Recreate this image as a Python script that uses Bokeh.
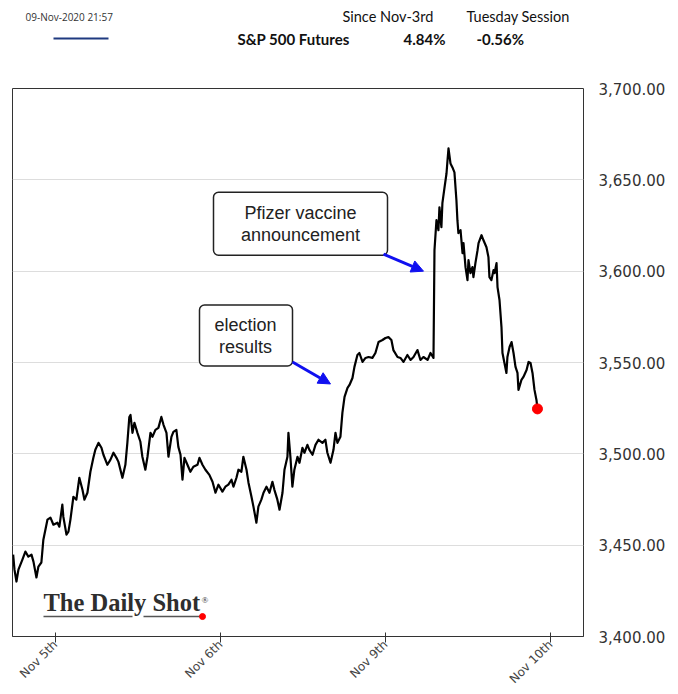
import math
from bokeh.plotting import figure
from bokeh.layouts import column
from bokeh.models import (Range1d, FixedTicker, NumeralTickFormatter, Label,
                          Arrow, NormalHead, BoxAnnotation)
from bokeh.core.properties import value
from bokeh.embed import file_html
from bokeh.resources import INLINE

# ---------------- data ----------------
# x: trading-session day (0 = Nov 5th, 1 = Nov 6th, 2 = Nov 9th, 3 = Nov 10th)
session_day = [
    -0.256, -0.248, -0.236, -0.224, -0.200, -0.182, -0.164, -0.145, -0.133, -0.115, -0.103, -0.085, -0.073, -0.048, -0.030, -0.012,
    0.012, 0.024, 0.042, 0.048, 0.067, 0.079, 0.091, 0.109, 0.127, 0.145, 0.164, 0.176, 0.194, 0.212, 0.230, 0.242, 0.261, 0.279, 0.291, 0.315, 0.333, 0.352, 0.370, 0.382, 0.406, 0.424, 0.436, 0.448,
    0.455, 0.467, 0.479, 0.497, 0.515, 0.527, 0.545, 0.558, 0.576, 0.588, 0.606, 0.624, 0.642, 0.655, 0.673, 0.685, 0.703, 0.715, 0.733, 0.745, 0.758, 0.770, 0.782, 0.800, 0.818, 0.836, 0.861, 0.873, 0.891, 0.909, 0.933, 0.952, 0.970, 0.988,
    1.012, 1.030, 1.048, 1.067, 1.079, 1.097, 1.109, 1.127, 1.139, 1.158, 1.170, 1.188, 1.200, 1.218, 1.230, 1.248, 1.261, 1.279, 1.297, 1.315, 1.327, 1.345, 1.358, 1.376, 1.388, 1.406, 1.412, 1.424, 1.436, 1.448, 1.467, 1.479, 1.497, 1.509, 1.527, 1.539, 1.558, 1.576, 1.594, 1.618, 1.636, 1.648, 1.667, 1.685, 1.697, 1.709, 1.727, 1.739, 1.752, 1.770, 1.782, 1.800, 1.812, 1.830, 1.842, 1.861, 1.879, 1.897, 1.921, 1.939, 1.958, 1.982,
    2.000, 2.018, 2.036, 2.048, 2.073, 2.091, 2.109, 2.133, 2.152, 2.170, 2.194, 2.212, 2.230, 2.255, 2.273, 2.291, 2.297, 2.309, 2.321, 2.327, 2.339, 2.345, 2.358, 2.370, 2.376, 2.382, 2.394, 2.406, 2.418, 2.430, 2.436, 2.442, 2.455, 2.467, 2.473, 2.485, 2.497, 2.503, 2.515, 2.527, 2.533, 2.545, 2.558, 2.564, 2.582, 2.594, 2.612, 2.624, 2.630, 2.642, 2.655, 2.661, 2.673, 2.679, 2.691, 2.703, 2.709, 2.721, 2.733, 2.739, 2.752, 2.764, 2.776, 2.788, 2.800, 2.806, 2.824, 2.836, 2.855, 2.867, 2.879, 2.891, 2.903, 2.915, 2.921,
]
price = [
    3444.8, 3436.6, 3430.1, 3436.6, 3442.1, 3446.5, 3443.7, 3444.8, 3441.0, 3432.3, 3438.3, 3440.5, 3453.0, 3464.0, 3465.1, 3461.2,
    3462.3, 3460.1, 3472.2, 3465.6, 3455.8, 3457.4, 3464.0, 3476.5, 3474.9, 3486.9, 3480.3, 3474.9, 3478.7, 3490.2, 3497.8, 3502.2, 3506.0, 3503.3, 3499.5, 3494.0, 3496.7, 3500.6, 3497.8, 3495.6, 3486.9, 3494.0, 3506.0, 3520.2,
    3521.3, 3511.5, 3517.0, 3511.5, 3506.6, 3498.4, 3491.3, 3498.4, 3511.5, 3509.3, 3513.1, 3514.2, 3520.2, 3515.9, 3511.5, 3498.4, 3509.3, 3512.0, 3513.1, 3503.8, 3499.5, 3485.8, 3497.8, 3494.0, 3490.2, 3492.9, 3494.0, 3497.8, 3494.0, 3491.3, 3488.5, 3484.7, 3478.7, 3483.1,
    3479.3, 3482.0, 3483.1, 3485.8, 3482.0, 3486.9, 3491.3, 3490.2, 3498.4, 3491.3, 3484.2, 3476.5, 3471.1, 3462.3, 3471.1, 3474.9, 3478.7, 3482.0, 3478.7, 3484.7, 3480.3, 3474.9, 3469.4, 3478.7, 3491.3, 3498.4, 3511.5, 3498.4, 3482.0, 3491.3, 3498.4, 3495.1, 3503.3, 3500.6, 3504.9, 3502.2, 3499.5, 3504.9, 3507.7, 3506.0, 3507.7, 3500.6, 3495.1, 3502.2, 3511.5, 3506.0, 3509.3, 3522.4, 3531.2, 3536.1, 3537.7, 3541.5, 3547.6, 3554.1, 3555.2, 3550.3, 3552.5, 3553.0, 3552.5, 3555.2, 3561.2, 3562.3,
    3563.4, 3563.9, 3562.3, 3556.8, 3553.0, 3552.5, 3550.3, 3554.1, 3551.4, 3553.0, 3556.8, 3551.4, 3553.0, 3551.4, 3555.2, 3552.5, 3611.5, 3627.9, 3622.4, 3635.0, 3624.1, 3637.2, 3645.9, 3653.6, 3660.7, 3667.2, 3659.0, 3656.8, 3654.1, 3638.8, 3627.9, 3620.8, 3622.4, 3609.8, 3615.3, 3602.2, 3595.1, 3606.0, 3598.9, 3602.2, 3596.7, 3604.4, 3611.5, 3615.3, 3619.7, 3616.9, 3613.1, 3607.7, 3596.7, 3595.1, 3600.6, 3598.9, 3604.4, 3591.3, 3584.2, 3569.4, 3555.2, 3549.7, 3544.3, 3553.0, 3558.5, 3561.2, 3555.2, 3547.6, 3544.3, 3535.0, 3540.5, 3542.1, 3545.9, 3550.3, 3549.7, 3544.3, 3535.0, 3529.5, 3524.6,
]
assert len(session_day) == len(price)

tick_days = [0, 1, 2, 3]
tick_labels = ["Nov 5th", "Nov 6th", "Nov 9th", "Nov 10th"]
price_ticks = [3400, 3450, 3500, 3550, 3600, 3650, 3700]

timestamp_text = "09-Nov-2020 21:57"
series_name = "S&P 500 Futures"
since_header = "Since Nov-3rd"
session_header = "Tuesday Session"
since_value = "4.84%"
session_value = "-0.56%"

# ---------------- layout ----------------
W = 670
HH = 70                      # header strip height
H = 624                      # main figure height
FL, FT, FW, FH = 12, 18, 571, 549   # frame inside main figure
X_LO, X_HI = -0.26, 3.2
Y_LO, Y_HI = 3400, 3700
PAGE_FT = HH + FT            # frame top in page pixels (88)


def xd(px):
    """page pixel x -> data x"""
    return X_LO + (px - FL) / FW * (X_HI - X_LO)


def yd(py):
    """page pixel y -> data y"""
    return Y_HI - (py - PAGE_FT) / FH * (Y_HI - Y_LO)


# ---------------- header strip (page-pixel coordinates) ----------------
hdr = figure(width=W, height=HH, x_range=Range1d(FL, FL + FW), y_range=Range1d(HH, 0),
             x_axis_type=None, y_axis_type=None, output_backend="svg",
             toolbar_location=None, min_border_left=FL, min_border_right=W - FL - FW,
             min_border_top=0, min_border_bottom=0, outline_line_color=None,
             background_fill_color="white", border_fill_color="white")
hdr.grid.visible = False
hdr.text(x=[25], y=[16], text=[timestamp_text], text_align="left", text_baseline="middle",
         text_font=value("Open Sans"), text_font_size=value("10px"), text_color="#333333")
hdr.segment(x0=[53], y0=[38], x1=[108], y1=[38], line_color="#1f3a80", line_width=2)
hdr.text(x=[342, 466], y=[16, 16], text=[since_header, session_header], text_align="left",
         text_baseline="middle", text_font=value("Lato"), text_font_size=value("14.5px"),
         text_color="#111111")
hdr.text(x=[237, 403, 476], y=[38, 38, 38], text=[series_name, since_value, session_value],
         text_align="left", text_baseline="middle", text_font=value("Lato"),
         text_font_size=value("15px"), text_font_style="bold", text_color="#111111")

# ---------------- main chart ----------------
p = figure(width=W, height=H,
           x_range=Range1d(X_LO, X_HI), y_range=Range1d(Y_LO, Y_HI),
           y_axis_location="right",
           output_backend="svg", toolbar_location=None,
           min_border_left=FL, min_border_top=FT,
           min_border_right=W - FL - FW, min_border_bottom=H - FT - FH,
           background_fill_color="white", border_fill_color="white",
           outline_line_color="#333333", outline_line_width=1)

yax = p.yaxis[0]
yax.ticker = FixedTicker(ticks=price_ticks)
yax.formatter = NumeralTickFormatter(format="0,0.00")
yax.major_tick_in = 0
yax.major_tick_out = 0
yax.minor_tick_in = 0
yax.minor_tick_out = 0
yax.axis_line_color = None
yax.major_label_standoff = 15
yax.major_label_text_font = "DejaVu Sans"
yax.major_label_text_font_size = "15px"
yax.major_label_text_color = "#333333"

xax = p.xaxis[0]
xax.ticker = FixedTicker(ticks=tick_days)
xax.major_label_overrides = {d: lab for d, lab in zip(tick_days, tick_labels)}
xax.major_label_orientation = math.pi / 4
xax.major_tick_in = 4
xax.major_tick_out = 6
xax.minor_tick_in = 0
xax.minor_tick_out = 0
xax.major_tick_line_color = "#333333"
xax.axis_line_color = "#333333"
xax.major_label_text_font = "DejaVu Sans"
xax.major_label_text_font_size = "12px"
xax.major_label_text_color = "#444444"
xax.major_label_standoff = 0

p.xgrid.visible = False
p.ygrid.ticker = FixedTicker(ticks=price_ticks)
p.ygrid.grid_line_color = "#dddddd"
p.ygrid.grid_line_width = 1

# series
p.line(session_day, price, line_color="black", line_width=2.2, line_join="round")
p.scatter([session_day[-1]], [price[-1]], size=10, marker="circle",
          fill_color="#ff0000", line_color="#ff0000")

# annotation boxes
box_style = dict(fill_color="white", fill_alpha=1.0, line_color="#222222",
                 line_width=1.5, line_alpha=1.0, border_radius=5)
p.add_layout(BoxAnnotation(left=xd(213), right=xd(387), top=yd(192), bottom=yd(255), **box_style))
p.add_layout(BoxAnnotation(left=xd(199), right=xd(292), top=yd(305), bottom=yd(366), **box_style))

for txt, px, py in [("Pfizer vaccine", 300, 213), ("announcement", 300, 235),
                    ("election", 245, 325), ("results", 245, 347)]:
    p.add_layout(Label(x=xd(px), y=yd(py), text=txt, text_align="center",
                       text_baseline="middle", text_font="Liberation Sans",
                       text_font_size="18px", text_color="#222222"))

for (x0, y0, x1, y1) in [(383, 254, 423, 271), (292, 362, 330, 384)]:
    p.add_layout(Arrow(end=NormalHead(size=12, fill_color="#1010f0", line_color="#1010f0"),
                       x_start=xd(x0), y_start=yd(y0), x_end=xd(x1), y_end=yd(y1),
                       line_color="#1010f0", line_width=3))

# logo
p.add_layout(Label(x=xd(43), y=yd(603), text="The Daily Shot", text_align="left",
                   text_baseline="middle", text_font="Liberation Serif",
                   text_font_size="24.5px", text_font_style="bold", text_color="#2e2e2e"))
p.add_layout(Label(x=xd(201), y=yd(600), text="®", text_align="left",
                   text_baseline="middle", text_font="Liberation Serif",
                   text_font_size="9px", text_color="#2e2e2e"))
p.segment(x0=[xd(43), xd(143)], y0=[yd(617), yd(617)], x1=[xd(132), xd(200)], y1=[yd(617), yd(617)],
          line_color="#555555", line_width=1.5)
p.scatter([xd(202)], [yd(617)], size=6, marker="circle", fill_color="#ff0000", line_color="#ff0000")

layout = column(hdr, p, spacing=0)
open("out.html", "w").write(file_html(layout, INLINE))
